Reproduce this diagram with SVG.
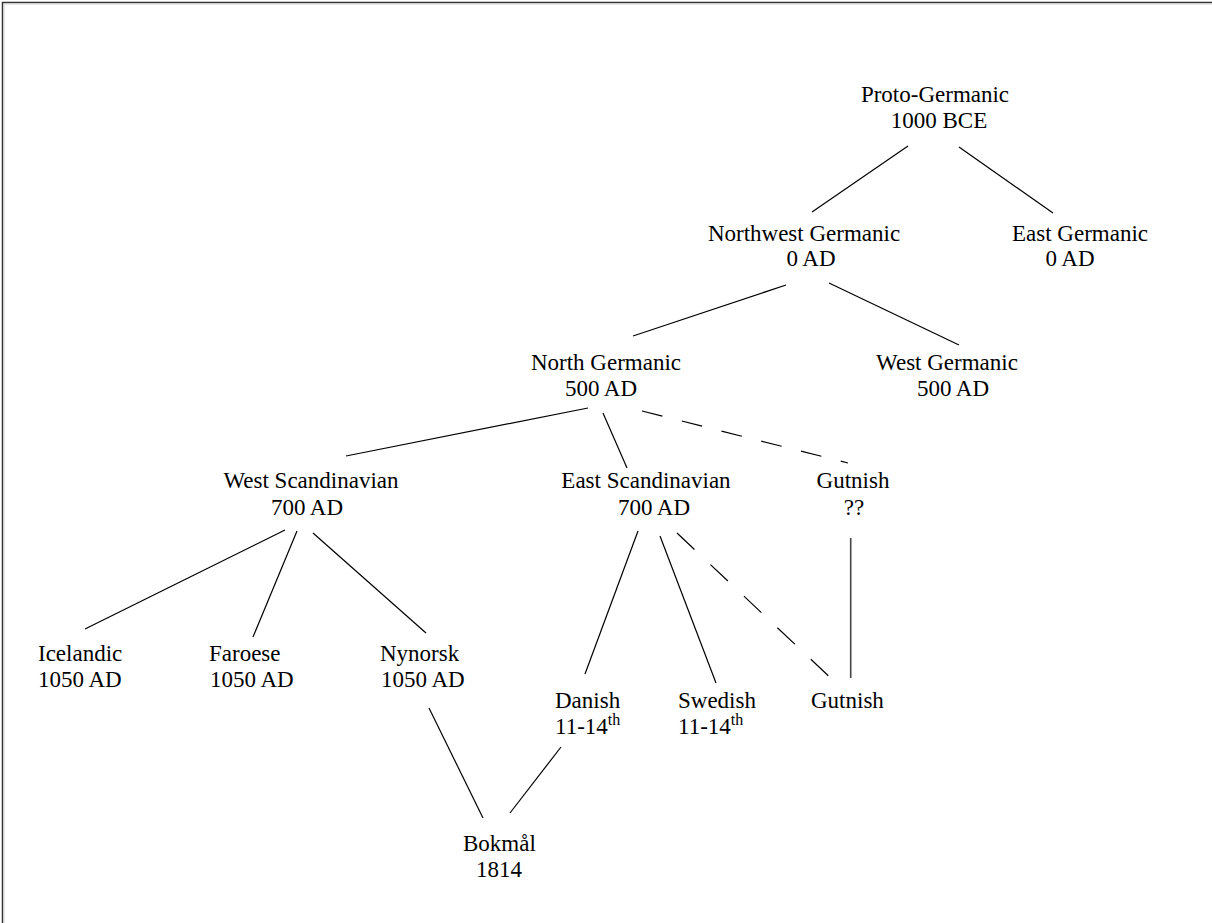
<svg xmlns="http://www.w3.org/2000/svg" width="1212" height="923" viewBox="0 0 1212 923">
<style>
text{font-family:"Liberation Serif","Times New Roman",serif;font-size:23px;fill:#000}
.m{text-anchor:middle}
.sup{font-size:16px}
.ln{stroke:#000;stroke-width:1.2;fill:none}
.d1{stroke-dasharray:21 20}
.d2{stroke-dasharray:24 22}
</style>
<rect width="1212" height="923" fill="#fff"/>
<path d="M2.5 923V2.5H1212" fill="none" stroke="#333" stroke-width="1.5"/>
<path d="M4 923V4H1212" fill="none" stroke="#d0d0d0" stroke-width="1"/>
<g id="connectors">
<line class="ln" x1="908" y1="146" x2="812" y2="212"/>
<line class="ln" x1="959" y1="147" x2="1053" y2="213"/>
<line class="ln" x1="786" y1="285" x2="633" y2="336"/>
<line class="ln" x1="829" y1="283" x2="959" y2="345"/>
<line class="ln" x1="588" y1="408" x2="346" y2="456"/>
<line class="ln" x1="603" y1="413" x2="627" y2="468"/>
<line class="ln d1" x1="642" y1="411" x2="848" y2="463"/>
<line class="ln" x1="285" y1="530" x2="85" y2="629"/>
<line class="ln" x1="297" y1="531" x2="253" y2="637"/>
<line class="ln" x1="313" y1="533" x2="426" y2="633"/>
<line class="ln" x1="638" y1="531" x2="585" y2="674"/>
<line class="ln" x1="660" y1="536" x2="716" y2="683"/>
<line class="ln d2" x1="677" y1="533" x2="836" y2="683"/>
<line x1="850.7" y1="538" x2="850.7" y2="678" stroke="#444" stroke-width="1.6"/>
<line class="ln" x1="429" y1="708" x2="483" y2="818"/>
<line class="ln" x1="561" y1="747" x2="510" y2="813"/>
</g>
<g id="proto-germanic"><text class="m" x="935" y="102">Proto-Germanic</text><text class="m" x="939" y="128">1000 BCE</text></g>
<g id="northwest-germanic"><text class="m" x="804" y="241">Northwest Germanic</text><text class="m" x="811" y="266">0 AD</text></g>
<g id="east-germanic"><text class="m" x="1080" y="241">East Germanic</text><text class="m" x="1070" y="266">0 AD</text></g>
<g id="north-germanic"><text class="m" x="606" y="370">North Germanic</text><text class="m" x="601" y="396">500 AD</text></g>
<g id="west-germanic"><text class="m" x="947" y="370">West Germanic</text><text class="m" x="953" y="396">500 AD</text></g>
<g id="west-scandinavian"><text class="m" x="311" y="488">West Scandinavian</text><text class="m" x="307" y="515">700 AD</text></g>
<g id="east-scandinavian"><text class="m" x="646" y="488">East Scandinavian</text><text class="m" x="654" y="515">700 AD</text></g>
<g id="gutnish-old"><text class="m" x="853" y="488">Gutnish</text><text class="m" x="854" y="515">??</text></g>
<g id="icelandic"><text x="38" y="661">Icelandic</text><text x="38" y="687">1050 AD</text></g>
<g id="faroese"><text x="209" y="661">Faroese</text><text x="210" y="687">1050 AD</text></g>
<g id="nynorsk"><text x="380" y="661">Nynorsk</text><text x="381" y="687">1050 AD</text></g>
<g id="danish"><text x="555" y="708">Danish</text><text x="555" y="734">11-14<tspan class="sup" dy="-9">th</tspan></text></g>
<g id="swedish"><text x="678" y="708">Swedish</text><text x="678" y="734">11-14<tspan class="sup" dy="-9">th</tspan></text></g>
<g id="gutnish"><text x="811" y="708">Gutnish</text></g>
<g id="bokmal"><text x="463" y="851">Bokmål</text><text x="476" y="877">1814</text></g>
</svg>
